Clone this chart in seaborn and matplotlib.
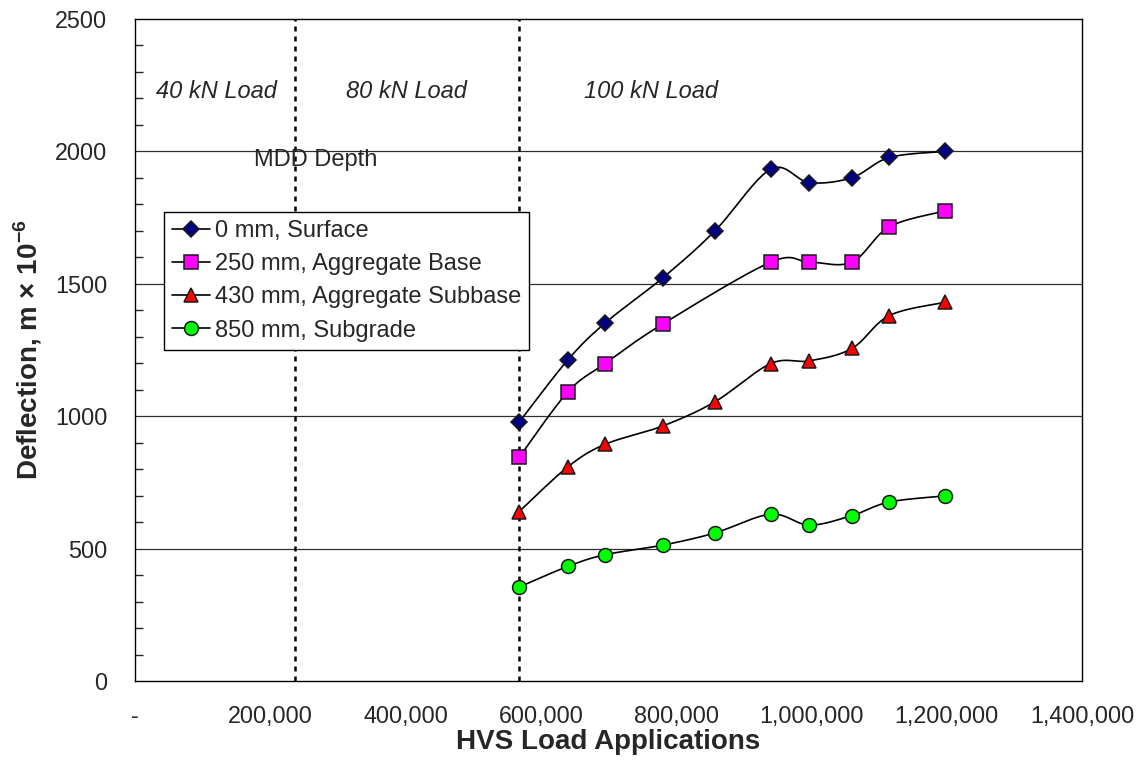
import numpy as np
import pandas as pd
import matplotlib
matplotlib.use("Agg")
import matplotlib.pyplot as plt
import seaborn as sns
from matplotlib.lines import Line2D
from matplotlib.ticker import MultipleLocator, FuncFormatter

# ---- data ----
loads = [568000, 640000, 695000, 780000, 857000, 940000, 997000, 1060000, 1115000, 1197000]
surface = [978, 1213, 1352, 1522, 1699, 1933, 1882, 1901, 1977, 2000]
agg_base = [845, 1092, 1199, 1348, None, 1582, 1582, 1582, 1715, 1775]  # no reading at 857,000
agg_subbase = [640, 809, 894, 963, 1054, 1199, 1209, 1256, 1380, 1430]
subgrade = [355, 433, 477, 513, 559, 630, 589, 625, 676, 699]

series_names = ["0 mm, Surface", "250 mm, Aggregate Base",
                "430 mm, Aggregate Subbase", "850 mm, Subgrade"]
load_changes = [236000, 568000]
load_labels = ["40 kN Load", "80 kN Load", "100 kN Load"]
load_label_x = [120000, 401000, 763000]

styles = {
    "0 mm, Surface": dict(marker="D", color="#000080", ms=8.5),
    "250 mm, Aggregate Base": dict(marker="s", color="#FF00FF", ms=9.5),
    "430 mm, Aggregate Subbase": dict(marker="^", color="#FF0000", ms=10),
    "850 mm, Subgrade": dict(marker="o", color="#00FF00", ms=10),
}


def excel_smooth(x, y, n=24):
    # Bezier smoothing like Excel's "smoothed line", done in screen-like units
    sx, sy = 947 / 1.4e6, 662 / 2500
    P = np.column_stack([np.asarray(x) * sx, np.asarray(y) * sy])
    out = []
    for i in range(len(P) - 1):
        p0 = P[i - 1] if i > 0 else P[i]
        p1, p2 = P[i], P[i + 1]
        p3 = P[i + 2] if i + 2 < len(P) else P[i + 1]
        c1 = p1 + (p2 - p0) / 6
        c2 = p2 - (p3 - p1) / 6
        t = np.linspace(0, 1, n)[:, None]
        seg = ((1 - t) ** 3) * p1 + 3 * ((1 - t) ** 2) * t * c1 + 3 * (1 - t) * t ** 2 * c2 + t ** 3 * p2
        out.append(seg if i == 0 else seg[1:])
    out = np.vstack(out)
    return out[:, 0] / sx, out[:, 1] / sy


sns.set_style("white")
plt.rcParams["font.family"] = ["Liberation Sans", "DejaVu Sans"]
plt.rcParams["mathtext.fontset"] = "custom"
plt.rcParams["mathtext.rm"] = "Liberation Sans"
plt.rcParams["mathtext.bf"] = "Liberation Sans:bold"

fig = plt.figure(figsize=(11.41, 7.6), dpi=100)
ax = fig.add_axes([0.1183, 0.1039, 0.9483 - 0.1183, 0.975 - 0.1039])

# horizontal grid lines
for g in [500, 1000, 1500, 2000]:
    ax.axhline(g, color="#303030", lw=0.9, zorder=1)

# load-level boundaries
for xc in load_changes:
    ax.axvline(xc, color="black", lw=1.8, linestyle=(0, (2.0, 2.0)), zorder=1)

all_y = [surface, agg_base, agg_subbase, subgrade]
handles = []
for name, yv in zip(series_names, all_y):
    st = styles[name]
    pts = pd.DataFrame({"x": loads, "y": yv}).dropna()
    xs, ys = excel_smooth(pts["x"].values, pts["y"].values.astype(float))
    sns.lineplot(x=xs, y=ys, sort=False, estimator=None, color="black", lw=1.2, ax=ax, zorder=2)
    ax.plot(pts["x"], pts["y"], linestyle="none", marker=st["marker"], ms=st["ms"],
            mfc=st["color"], mec="#1a1a1a", mew=1.1, zorder=3)
    handles.append(Line2D([], [], color="black", lw=1.2, marker=st["marker"], ms=st["ms"],
                          mfc=st["color"], mec="#1a1a1a", mew=1.1))

ax.set_xlim(0, 1400000)
ax.set_ylim(0, 2500)
ax.xaxis.set_major_locator(MultipleLocator(200000))
ax.yaxis.set_major_locator(MultipleLocator(500))
ax.yaxis.set_minor_locator(MultipleLocator(100))
ax.xaxis.set_major_formatter(FuncFormatter(lambda v, p: "-" if v == 0 else f"{int(v):,}"))

ax.tick_params(axis="x", which="major", direction="out", length=6, width=1, labelsize=16.8, pad=11)
ax.tick_params(axis="y", which="major", direction="inout", length=12, width=1, labelsize=16.8, pad=14)
ax.tick_params(axis="y", which="minor", direction="in", length=6, width=1, left=True)

for sp in ax.spines.values():
    sp.set_color("black")
    sp.set_linewidth(1.0)

ax.set_xlabel("HVS Load Applications", fontsize=20, fontweight="bold", labelpad=1)
ax.set_ylabel(r"Deflection, m × 10$^{\mathbf{-6}}$", fontsize=20, fontweight="bold", labelpad=8)

for lbl, xl in zip(load_labels, load_label_x):
    ax.text(xl, 2225, lbl, style="italic", fontsize=17, ha="center", va="center")
ax.text(267000, 1967, "MDD Depth", fontsize=17, ha="center", va="center")

leg = ax.legend(handles, series_names, loc="upper left", bbox_to_anchor=(0.0306, 0.7085),
                fontsize=17, frameon=True, fancybox=False, framealpha=1, edgecolor="black",
                handlelength=1.6, handletextpad=0.2, labelspacing=0.47, borderpad=0.35,
                borderaxespad=0)
leg.get_frame().set_linewidth(1.0)
leg.set_zorder(5)

fig.savefig("out.png", dpi=100)
